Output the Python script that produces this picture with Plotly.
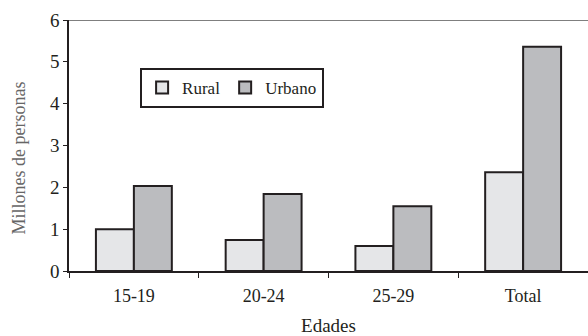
import plotly.graph_objects as go

categories = ["15-19", "20-24", "25-29", "Total"]
rural = [1.0, 0.74, 0.6, 2.36]
urbano = [2.03, 1.84, 1.55, 5.36]
y_ticks = [0, 1, 2, 3, 4, 5, 6]

FONT = "Liberation Serif, Times New Roman, serif"
INK = "#231f20"

fig = go.Figure()
fig.add_trace(go.Bar(name="Rural", x=categories, y=rural,
                     marker=dict(color="#e5e6e8", line=dict(color=INK, width=2))))
fig.add_trace(go.Bar(name="Urbano", x=categories, y=urbano,
                     marker=dict(color="#bbbcbf", line=dict(color=INK, width=2))))

fig.update_layout(
    width=588, height=336,
    margin=dict(l=69, r=0, t=20, b=65),
    paper_bgcolor="white", plot_bgcolor="white",
    barmode="group", bargap=0.415, bargroupgap=0,
    font=dict(family=FONT, size=19, color=INK),
    showlegend=True,
    legend=dict(orientation="h", x=0.137, y=0.809, xanchor="left", yanchor="top",
                bgcolor="white", bordercolor=INK, borderwidth=2,
                font=dict(family=FONT, size=17, color=INK),
                itemwidth=30, tracegroupgap=0),
    xaxis=dict(range=[-0.5, 3.5], showline=True, linecolor=INK, linewidth=1.5,
               ticks="outside", tickson="boundaries", ticklen=5, tickcolor=INK,
               ticklabelstandoff=8,
               title=dict(text="Edades", standoff=14, font=dict(size=19)),
               tickfont=dict(size=18), showgrid=False),
    yaxis=dict(range=[0, 6], tickvals=y_ticks, showline=True, linecolor=INK, linewidth=1.5,
               ticks="outside", ticklen=4, tickcolor=INK, showgrid=False, zeroline=False,
               tickfont=dict(size=19)),
    annotations=[dict(text="Millones de personas", textangle=-90, showarrow=False,
                      xref="paper", yref="paper", x=0, y=0.5, xanchor="center", yanchor="middle",
                      xshift=-51, yshift=-13, font=dict(size=18, color="#666", family=FONT))],
)
fig.add_shape(type="line", xref="paper", yref="y", x0=0, x1=1, y0=6, y1=6,
              line=dict(color="#555", width=1.5))

fig.write_html("out.html", config={"displayModeBar": False},
               post_script="document.body.style.margin='0';document.body.style.overflow='hidden';")
